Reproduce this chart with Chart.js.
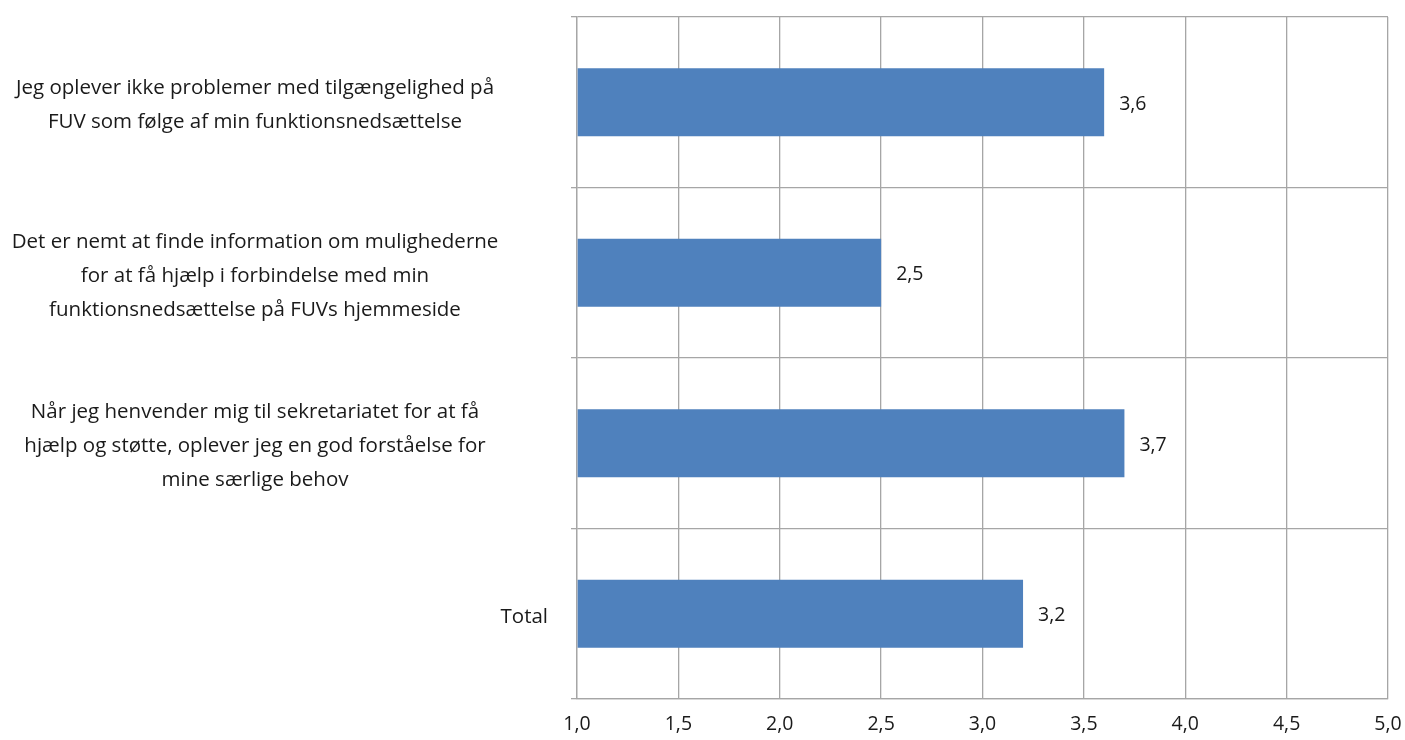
<!DOCTYPE html>
<html>
<head>
<meta charset="utf-8">
<script src="https://cdn.jsdelivr.net/npm/chart.js@4"></script>
<style>
    body { margin: 0; background: #ffffff; }
    #wrap { width: 1405px; height: 740px; }
</style>
</head>
<body>
<div id="wrap"><canvas id="barChart"></canvas></div>
<script>
// Données du graphique
var categories = [
    ['Jeg oplever ikke problemer med tilgængelighed på', 'FUV som følge af min funktionsnedsættelse'],
    ['Det er nemt at finde information om mulighederne', 'for at få hjælp i forbindelse med min', 'funktionsnedsættelse på FUVs hjemmeside'],
    ['Når jeg henvender mig til sekretariatet for at få', 'hjælp og støtte, oplever jeg en god forståelse for', 'mine særlige behov'],
    ['Total']
];
var valeurs = [3.6, 2.5, 3.7, 3.2];
var xMin = 1.0;
var xMax = 5.0;
var xStep = 0.5;

var police = '"Open Sans", "Noto Sans", sans-serif';
var grille = '#a6a6a6';
var texte = '#1a1a1a';

// Format décimal avec virgule
function virgule(v) {
    return Number(v).toFixed(1).replace('.', ',');
}

// Plugin pour afficher les valeurs à droite des barres
var etiquettesValeurs = {
    id: 'etiquettesValeurs',
    afterDatasetsDraw: function(chart) {
        var ctx = chart.ctx;
        ctx.save();
        ctx.font = '19.5px ' + police;
        ctx.fillStyle = texte;
        ctx.textAlign = 'left';
        ctx.textBaseline = 'middle';
        chart.getDatasetMeta(0).data.forEach(function(barre, i) {
            ctx.fillText(virgule(valeurs[i]), barre.x + 15, barre.y + 2);
        });
        ctx.restore();
    }
};

// Plugin pour les libellés de l'axe Y (texte centré, "Total" aligné à droite)
var libellesY = {
    id: 'libellesY',
    afterDraw: function(chart) {
        var ctx = chart.ctx;
        var echelle = chart.scales.y;
        var interligne = 34;
        ctx.save();
        ctx.font = '20.5px ' + police;
        ctx.fillStyle = texte;
        ctx.textBaseline = 'middle';
        categories.forEach(function(lignes, i) {
            var yc = echelle.getPixelForTick(i) + 3;
            var y0 = yc - (lignes.length - 1) * interligne / 2;
            var x;
            if (lignes.length === 1) {
                ctx.textAlign = 'right';
                x = echelle.right - 29;
            } else {
                ctx.textAlign = 'center';
                x = echelle.right - 322;
            }
            lignes.forEach(function(ligne, j) {
                ctx.fillText(ligne, x, y0 + j * interligne);
            });
        });
        ctx.restore();
    }
};

var ctx = document.getElementById('barChart').getContext('2d');
var barChart = new Chart(ctx, {
    type: 'bar',
    data: {
        labels: categories,
        datasets: [{
            data: valeurs,
            base: xMin,
            backgroundColor: '#4f81bd',
            borderWidth: 0,
            barPercentage: 0.4,
            categoryPercentage: 1.0
        }]
    },
    options: {
        indexAxis: 'y',
        responsive: true,
        maintainAspectRatio: false,
        animation: false,
        layout: {
            padding: { top: 17, right: 17, left: 0, bottom: 0 }
        },
        plugins: {
            legend: { display: false },
            tooltip: { enabled: false }
        },
        scales: {
            x: {
                min: xMin,
                max: xMax,
                ticks: {
                    stepSize: xStep,
                    color: texte,
                    font: { family: police, size: 19.5 },
                    padding: 14,
                    maxRotation: 0,
                    callback: function(v) { return virgule(v); }
                },
                grid: { color: grille, lineWidth: 1.3, drawTicks: false },
                border: { display: true, color: grille, width: 1.3 },
                afterFit: function(s) {
                    s.height = 41;
                    s.paddingLeft = 0;
                    s.paddingRight = 0;
                }
            },
            y: {
                ticks: {
                    color: 'rgba(0,0,0,0)',
                    font: { family: police, size: 20.5 }
                },
                grid: { color: grille, lineWidth: 1.3, offset: true, tickLength: 6 },
                border: { display: true, color: grille, width: 1.3 },
                afterFit: function(s) {
                    s.width = 577;
                    s.paddingTop = 0;
                    s.paddingBottom = 0;
                }
            }
        }
    },
    plugins: [etiquettesValeurs, libellesY]
});
</script>
</body>
</html>
